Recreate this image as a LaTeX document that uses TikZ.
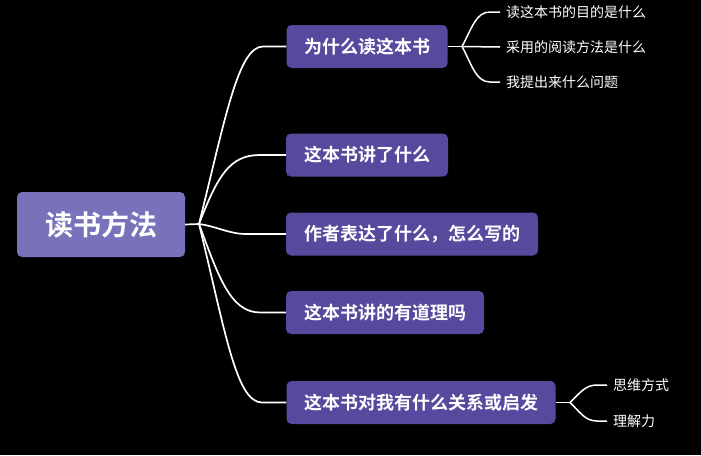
\documentclass[tikz,border=0pt]{standalone}
\usepackage{fontspec}
\setmainfont{Noto Sans CJK SC}[BoldFont={Noto Sans CJK SC Bold}]
\begin{document}
\begin{tikzpicture}[x=1pt,y=-1pt,
  rootbox/.style={fill=rootcol,rounded corners=5pt,text=white,font=\fontsize{28}{30}\selectfont\bfseries,inner sep=0pt,minimum width=168pt,minimum height=65pt},
  topicbox/.style={fill=topiccol,rounded corners=5pt,text=white,font=\fontsize{18}{20}\selectfont\bfseries,inner sep=0pt,minimum height=43pt},
  leaf/.style={text=white,font=\fontsize{14}{16}\selectfont,inner sep=0pt,anchor=west},
  conn/.style={draw=white,line width=1.7pt},
  lconn/.style={draw=white,line width=1.5pt}]
\definecolor{rootcol}{HTML}{7872BA}
\definecolor{topiccol}{HTML}{554A9E}
\fill[black] (0,0) rectangle (701,455);
\useasboundingbox (0,0) rectangle (701,455);

\node[rootbox] (root) at (101,224.5) {读书方法};
\node[topicbox,minimum width=161pt] (c1) at (367,46.5) {为什么读这本书};
\node[topicbox,minimum width=162pt] (c2) at (367,155) {这本书讲了什么};
\node[topicbox,minimum width=252pt] (c3) at (412,234) {作者表达了什么，怎么写的};
\node[topicbox,minimum width=198pt] (c4) at (385,312.5) {这本书讲的有道理吗};
\node[topicbox,minimum width=269pt] (c5) at (421,402.5) {这本书对我有什么关系或启发};

\coordinate (j) at (199,224);
\draw[conn] (root.east) -- (j);
\draw[conn] (j) .. controls (225,120) and (238,46.5) .. (263,46.5) -- (c1.west);
\draw[conn] (j) .. controls (218,175) and (230,155) .. (260,155) -- (c2.west);
\draw[conn] (j) .. controls (215,226) and (230,234) .. (245,234) -- (c3.west);
\draw[conn] (j) .. controls (218,275) and (230,312.5) .. (260,312.5) -- (c4.west);
\draw[conn] (j) .. controls (225,330) and (236,402.5) .. (262,402.5) -- (c5.west);

% leaves of c1
\node[leaf] (l11) at (506,12) {读这本书的目的是什么};
\node[leaf] (l12) at (506,47) {采用的阅读方法是什么};
\node[leaf] (l13) at (506,82) {我提出来什么问题};
\coordinate (j1) at (462,46.5);
\draw[lconn] (c1.east) -- (j1);
\draw[lconn] (j1) .. controls (472,28) and (476,12) .. (490,12) -- ([xshift=-6pt]l11.west);
\draw[lconn] (j1) -- ([xshift=-6pt]l12.west);
\draw[lconn] (j1) .. controls (472,65) and (476,82) .. (490,82) -- ([xshift=-6pt]l13.west);

% leaves of c5
\node[leaf] (l51) at (613,385) {思维方式};
\node[leaf] (l52) at (613,421) {理解力};
\coordinate (j5) at (570,402.5);
\draw[lconn] (c5.east) -- (j5);
\draw[lconn] (j5) .. controls (580,393) and (585,385) .. (597,385) -- ([xshift=-6pt]l51.west);
\draw[lconn] (j5) .. controls (580,412) and (585,421) .. (597,421) -- ([xshift=-6pt]l52.west);
\end{tikzpicture}
\end{document}
